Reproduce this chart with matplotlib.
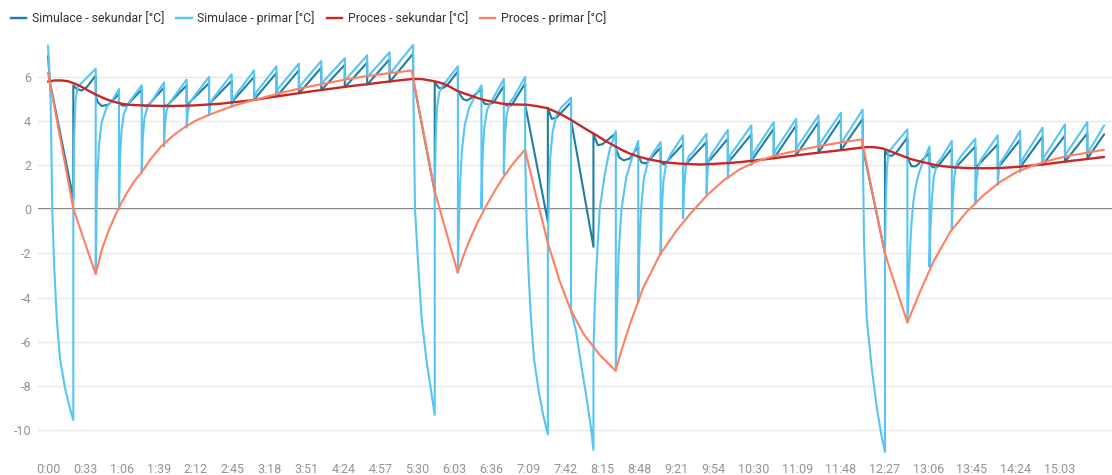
import matplotlib
matplotlib.use("Agg")
import matplotlib.pyplot as plt
from matplotlib.lines import Line2D

plt.rcParams['font.family'] = ['Roboto', 'DejaVu Sans']

# ---- data: time in minutes from start, temperatures in degC ----
series_labels = ["Simulace - sekundar [°C]", "Simulace - primar [°C]",
                 "Proces - sekundar [°C]", "Proces - primar [°C]"]
series_colors = ["#1f7f9f", "#56c5f5", "#c62828", "#ff7f61"]

sim_sekundar = [
    (0, 6.95), (1.6, 5.8), (22.6, 0.48),
    (22.6, 5.61), (25.6, 5.46), (30, 5.38), (34.5, 5.53), (42.6, 6.06),
    (42.6, 5.15), (44.5, 4.85), (48, 4.68), (54, 4.75), (63.4, 5.22),
    (63.4, 4.82), (66.5, 4.7), (70, 4.7), (83.7, 5.42),
    (83.7, 4.75), (86.5, 4.67), (89.5, 4.72), (103.6, 5.52),
    (103.6, 4.72), (106, 4.68), (123.8, 5.62),
    (123.8, 4.72), (143.8, 5.72),
    (143.8, 4.77), (164, 5.82),
    (164, 4.85), (184, 6.0),
    (184, 4.97), (204, 6.18),
    (204, 5.1), (224, 6.3),
    (224, 5.25), (244, 6.42),
    (244, 5.4), (265, 6.55),
    (265, 5.53), (285, 6.65),
    (285, 5.65), (305, 6.8),
    (305, 5.77), (326, 7.05),
    (326, 5.9), (345.3, 0.78),
    (345.3, 5.76), (349, 5.5), (352, 5.48), (356, 5.6), (366, 6.25),
    (366, 5.35), (370.5, 5.0), (374, 4.93), (378, 5.05), (387, 5.45),
    (387, 5.0), (390, 4.78), (394, 4.75), (398, 4.85), (407, 5.6),
    (407, 4.78), (410, 4.7), (414, 4.72), (426, 5.7),
    (426, 4.75), (446.3, -0.57),
    (446.3, 4.6), (449.7, 4.1), (454, 4.15), (467, 4.85),
    (467, 4.05), (487, -1.7),
    (487, 3.4), (491, 2.9), (495, 2.95), (507, 3.45),
    (507, 2.75), (510, 2.35), (514, 2.22), (519.5, 2.3), (527, 2.85),
    (527, 2.4), (530, 2.12), (534, 2.08), (547, 2.8),
    (547, 2.15), (550, 2.03), (567, 2.95),
    (567, 2.07), (569, 2.02), (588, 3.05),
    (588, 2.05), (607, 3.2),
    (607, 2.1), (628, 3.4),
    (628, 2.2), (648, 3.65),
    (648, 2.3), (668, 3.8),
    (668, 2.45), (688, 3.95),
    (688, 2.57), (708, 4.08),
    (708, 2.68), (727.4, 4.1),
    (727.4, 2.82), (747.3, -2.0),
    (747.3, 2.65), (750, 2.45), (753, 2.42), (757, 2.55), (767.3, 3.25),
    (767.3, 2.35), (771, 1.95), (775, 1.95), (787, 2.55),
    (787, 2.07), (790, 1.9), (794, 1.92), (807, 2.75),
    (807, 1.95), (810, 1.87), (828, 2.85),
    (828, 1.87), (848, 2.95),
    (848, 1.87), (868, 3.15),
    (868, 1.9), (888, 3.3),
    (888, 2.0), (908, 3.35),
    (908, 2.15), (928, 3.45),
    (928, 2.3), (943, 3.4),
]

sim_primar = [
    (0, 7.42), (1.0, 6.5), (2.4, 4.86), (3.8, 0.0), (5.6, -2.68), (7.8, -4.95),
    (10.7, -6.76), (15.2, -8.11), (19.6, -9.02), (22.6, -9.55),
    (22.6, 0.0), (23.4, 3.3), (24.5, 4.9), (26.5, 5.55), (42.6, 6.37),
    (42.6, -2.91), (43.75, 1.09), (45.5, 2.9), (47.9, 3.95), (52.4, 4.63), (58.3, 5.01), (63.4, 5.45),
    (63.4, 0.0), (64.3, 2.3), (65.6, 3.5), (67.6, 4.3), (71, 4.75), (83.7, 5.62),
    (83.7, 1.65), (84.6, 3.2), (86, 4.1), (88.5, 4.6), (92, 4.85), (103.6, 5.75),
    (103.6, 2.85), (104.5, 3.9), (106, 4.5), (109, 4.85), (123.8, 5.88),
    (123.8, 3.7), (124.8, 4.4), (126.5, 4.8), (129.5, 5.05), (143.8, 6.0),
    (143.8, 4.25), (145, 4.75), (147, 5.0), (164, 6.12),
    (164, 4.65), (165.3, 5.0), (168, 5.2), (184, 6.3),
    (184, 4.95), (186, 5.3), (204, 6.48),
    (204, 5.25), (206, 5.5), (224, 6.6),
    (224, 5.45), (226, 5.65), (244, 6.72),
    (244, 5.65), (246, 5.8), (265, 6.85),
    (265, 5.85), (267, 5.95), (285, 6.98),
    (285, 6.02), (287, 6.1), (305, 7.12),
    (305, 6.17), (307, 6.25), (326, 7.45),
    (326, 6.29), (326.8, 3.2), (327.7, 0.0), (330.7, -2.68), (333.6, -4.95),
    (338.1, -6.91), (342.6, -8.42), (345.3, -9.32),
    (345.3, 0.8), (346.1, 3.2), (347.3, 4.6), (349.3, 5.3), (352.5, 5.6), (366, 6.48),
    (366, -2.87), (367, -0.5), (368, 1.2), (369.5, 2.6), (372, 3.8), (376, 4.6), (380, 5.0), (387, 5.62),
    (387, 0.03), (388, 2.3), (389.5, 3.7), (392, 4.5), (396, 4.9), (407, 5.9),
    (407, 1.6), (408, 3.3), (409.5, 4.3), (412, 4.8), (416, 5.1), (426, 6.0),
    (426, 2.7), (426.8, 0.5), (427.6, -1.0), (429, -2.8), (431, -4.8), (434, -6.8),
    (438, -8.2), (442, -9.3), (446.3, -10.2),
    (446.3, -1.6), (447.3, 0.8), (448.5, 2.4), (450.5, 3.5), (453.5, 4.2), (458, 4.6), (467, 5.06),
    (467, -4.6), (471.4, -5.5), (475.9, -7.0), (480.4, -8.4), (484.8, -9.9), (487, -10.9),
    (487, -6.4), (488.2, -4.3), (489.6, -2.7), (492.6, 0.0), (497, 1.55), (501, 2.6), (507, 3.55),
    (507, -7.32), (508, -4.5), (509.5, -2.0), (512, 0.0), (516.5, 1.5), (522, 2.4), (527, 3.1),
    (527, -4.2), (528, -1.8), (529.5, 0.0), (532, 1.4), (536, 2.2), (541, 2.6), (547, 3.05),
    (547, -2.05), (548, 0.0), (549.5, 1.3), (552, 2.1), (556, 2.5), (567, 3.35),
    (567, -0.4), (568, 1.0), (569.5, 1.9), (572, 2.4), (576, 2.6), (588, 3.42),
    (588, 0.7), (589, 1.8), (590.5, 2.3), (593, 2.55), (607, 3.6),
    (607, 1.4), (608, 2.2), (609.5, 2.5), (612, 2.65), (628, 3.8),
    (628, 2.0), (629, 2.45), (631, 2.65), (648, 3.95),
    (648, 2.35), (649.2, 2.65), (651, 2.8), (668, 4.1),
    (668, 2.6), (669.3, 2.85), (688, 4.25),
    (688, 2.85), (689.5, 3.0), (708, 4.38),
    (708, 3.0), (709.5, 3.1), (727.4, 4.52),
    (727.4, 3.17), (728.6, -1.5), (731, -4.95), (735.5, -7.2), (740, -9.0), (744, -10.2), (747.3, -11.0),
    (747.3, -2.0), (748, 0.3), (749, 1.8), (750.5, 2.6), (753, 2.75), (767.3, 3.62),
    (767.3, -5.13), (768.5, -3.4), (769.6, -1.9), (771, -0.6), (772.6, 0.33), (775, 1.1),
    (777.1, 1.55), (781.5, 2.2), (787, 2.85),
    (787, -2.6), (788, -0.8), (789.2, 0.5), (791, 1.5), (794, 2.1), (798, 2.35), (807, 3.1),
    (807, -0.9), (808, 0.6), (809.3, 1.5), (811.5, 2.1), (815, 2.4), (828, 3.2),
    (828, 0.25), (829, 1.3), (830.5, 1.9), (833, 2.25), (848, 3.35),
    (848, 1.1), (849, 1.8), (850.5, 2.15), (853, 2.3), (868, 3.55),
    (868, 1.7), (869, 2.1), (870.5, 2.3), (888, 3.7),
    (888, 2.07), (889.2, 2.35), (891, 2.5), (908, 3.85),
    (908, 2.4), (909.5, 2.55), (928, 3.95),
    (928, 2.56), (929.5, 2.65), (943, 3.8),
]

proces_sekundar = [
    (0, 5.79), (6, 5.84), (12.2, 5.84), (18, 5.8), (24.1, 5.69), (30, 5.55), (36, 5.38),
    (42, 5.22), (47.9, 5.08), (53.5, 4.96), (59.8, 4.86), (65.5, 4.79), (71.7, 4.74),
    (83.6, 4.71), (95, 4.69), (107.4, 4.68), (119, 4.69), (131.3, 4.71), (143, 4.75),
    (155.1, 4.79), (165, 4.85), (172.9, 4.89), (180.4, 4.93), (195, 5.05), (210.1, 5.16),
    (225, 5.27), (239.9, 5.38), (255, 5.48), (269.6, 5.58), (285, 5.67), (299.4, 5.76),
    (313, 5.84), (326.2, 5.91), (334, 5.9), (341.1, 5.84), (347, 5.78), (353, 5.69),
    (359, 5.55), (364.9, 5.38), (370.5, 5.27), (376.8, 5.16), (385.7, 5.01), (391.7, 4.93),
    (399, 4.85), (406.5, 4.78), (417, 4.75), (427.4, 4.74), (436, 4.68), (445.2, 4.59),
    (452, 4.45), (460.1, 4.25), (467, 4.05), (475, 3.8), (482, 3.58), (489.9, 3.35),
    (497, 3.12), (504.8, 2.9), (512, 2.7), (519.6, 2.52), (527, 2.39), (534.5, 2.29),
    (542, 2.21), (549.4, 2.14), (557, 2.1), (564.3, 2.07), (573.2, 2.05), (582.1, 2.03),
    (595, 2.06), (608.9, 2.1), (620, 2.15), (632.7, 2.22), (647, 2.31), (662.5, 2.41),
    (677, 2.5), (692.3, 2.59), (703, 2.65), (713.1, 2.71), (722, 2.77), (731, 2.82),
    (739, 2.81), (745.8, 2.75), (751, 2.65), (757.7, 2.52), (763, 2.42), (769.6, 2.29),
    (776, 2.2), (784.5, 2.1), (791, 2.02), (799.4, 1.95), (810, 1.9), (820.2, 1.87),
    (835, 1.86), (850, 1.87), (865, 1.92), (879.8, 1.99), (894.6, 2.07), (909.5, 2.17),
    (926, 2.27), (942.9, 2.37),
]

proces_primar = [
    (0, 6.2), (22.6, 0.03), (42.6, -2.94), (47.9, -1.85), (53.9, -1.0), (59.8, -0.3),
    (63.5, 0.1), (70, 0.7), (76, 1.2), (83.7, 1.69), (92, 2.3), (101.5, 2.88), (112, 3.35),
    (122.3, 3.73), (132, 4.02), (143.2, 4.27), (155, 4.5), (166.9, 4.71), (180, 4.9),
    (195, 5.1), (210, 5.3), (225, 5.48), (240, 5.63), (255, 5.78), (270, 5.92), (285, 6.04),
    (300, 6.14), (313, 6.22), (324.7, 6.29),
    (345.5, 0.78), (365.8, -2.87), (371, -2.1), (376.8, -1.35), (383, -0.65), (391.7, 0.2),
    (399, 0.85), (406.5, 1.45), (416, 2.12), (425.9, 2.7),
    (436.3, 0.5), (446.7, -1.6), (457.1, -3.29), (466.1, -4.49), (477.9, -5.63),
    (492.8, -6.61), (506.8, -7.32),
    (512, -6.4), (519.6, -5.2), (531.5, -3.55), (546.4, -2.05), (561.3, -0.95), (573.2, -0.22),
    (588.1, 0.62), (603, 1.3), (617.9, 1.82), (632.7, 2.17), (647.6, 2.41),
    (662.5, 2.59), (677.4, 2.75), (692.3, 2.9), (707.1, 3.02), (726.5, 3.17),
    (747.3, -2.01), (767.3, -5.13),
    (778.6, -3.74), (790.5, -2.38), (805.4, -1.03), (820.2, -0.12), (835.1, 0.63),
    (850, 1.24), (864.9, 1.69), (879.8, 1.99), (894.6, 2.22), (909.5, 2.41),
    (927.4, 2.56), (942.9, 2.7),
]

x_tick_minutes = [0, 33, 66, 99, 132, 165, 198, 231, 264, 297, 330, 363, 396, 429,
                  462, 495, 528, 561, 594, 630, 669, 708, 747, 786, 825, 864, 903]
x_tick_labels = ["0:00", "0:33", "1:06", "1:39", "2:12", "2:45", "3:18", "3:51",
                 "4:24", "4:57", "5:30", "6:03", "6:36", "7:09", "7:42", "8:15",
                 "8:48", "9:21", "9:54", "10:30", "11:09", "11:48", "12:27",
                 "13:06", "13:45", "14:24", "15:03"]
y_ticks = [-10, -8, -6, -4, -2, 0, 2, 4, 6]

# ---- figure ----
W, H = 1112, 475
fig = plt.figure(figsize=(W / 100, H / 100), dpi=100)
left, right, top, bottom = 38, 1112, 33, 456
ax = fig.add_axes([left / W, 1 - bottom / H, (right - left) / W, (bottom - top) / H])

line_widths = [1.5, 1.5, 1.7, 1.5]
all_series = [sim_sekundar, sim_primar, proces_sekundar, proces_primar]
for data, color, label, lw in zip(all_series, series_colors, series_labels, line_widths):
    ts = [p[0] for p in data]
    vs = [p[1] for p in data]
    ax.plot(ts, vs, color=color, lw=lw, solid_joinstyle='round',
            solid_capstyle='round', label=label, zorder=3)

ax.set_xlim(-8.93, 950)
ax.set_ylim(-11.18, 7.99)

ax.set_yticks(y_ticks)
ax.set_yticklabels([str(v) for v in y_ticks])
ax.set_xticks(x_tick_minutes)
ax.set_xticklabels(x_tick_labels)

ax.grid(axis='y', color='#e8e8e8', lw=1.0, zorder=0)
ax.axhline(0, color='#555555', lw=1.2, zorder=1)

for s in ax.spines.values():
    s.set_visible(False)
ax.tick_params(axis='both', length=0, colors='#939393', labelsize=9)
ax.tick_params(axis='y', pad=5)
ax.tick_params(axis='x', pad=5)

handles = [Line2D([], [], color=c, lw=1.7) for c in series_colors]
fig.legend(handles, series_labels, loc='upper left', bbox_to_anchor=(0.0, 1.0),
           ncol=4, frameon=False, fontsize=8.8, handlelength=1.25,
           handletextpad=0.45, columnspacing=1.0, borderaxespad=0.5,
           labelcolor='#333333')

fig.savefig("out.png", dpi=100)
